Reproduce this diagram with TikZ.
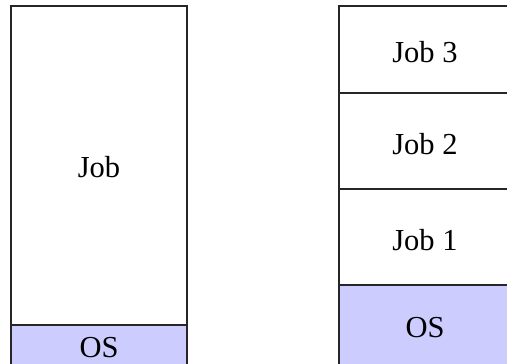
\documentclass[tikz,border=0pt]{standalone}
\usepackage{fontspec}
\setmainfont{Liberation Serif}
\begin{document}
\begin{tikzpicture}[x=1pt,y=-1pt,
  cell/.style={draw=black!85, line width=1.3pt},
  oscell/.style={cell, fill=oscolor},
  label/.style={anchor=base, inner sep=0pt, font=\fontsize{30.5}{36}\selectfont}]
\definecolor{oscolor}{RGB}{204,204,255}
\useasboundingbox (0,0) rectangle (507,364);
\clip (0,0) rectangle (507,364);

% single job in memory
\draw[cell]   (11,6)   rectangle (187,325);
\draw[oscell] (11,325) rectangle (187,380);
\node[label] (job) at (99,177) {Job};
\node[label] (os1) at (99,357) {OS};

% several jobs in memory
\draw[cell]   (339,6)   rectangle (511,93);
\draw[cell]   (339,93)  rectangle (511,189);
\draw[cell]   (339,189) rectangle (511,285);
\draw[oscell] (339,285) rectangle (511,380);
\node[label] (job3) at (425,63)  {Job 3};
\node[label] (job2) at (425,154) {Job 2};
\node[label] (job1) at (425,250) {Job 1};
\node[label] (os2)  at (425,337) {OS};
\end{tikzpicture}
\end{document}
